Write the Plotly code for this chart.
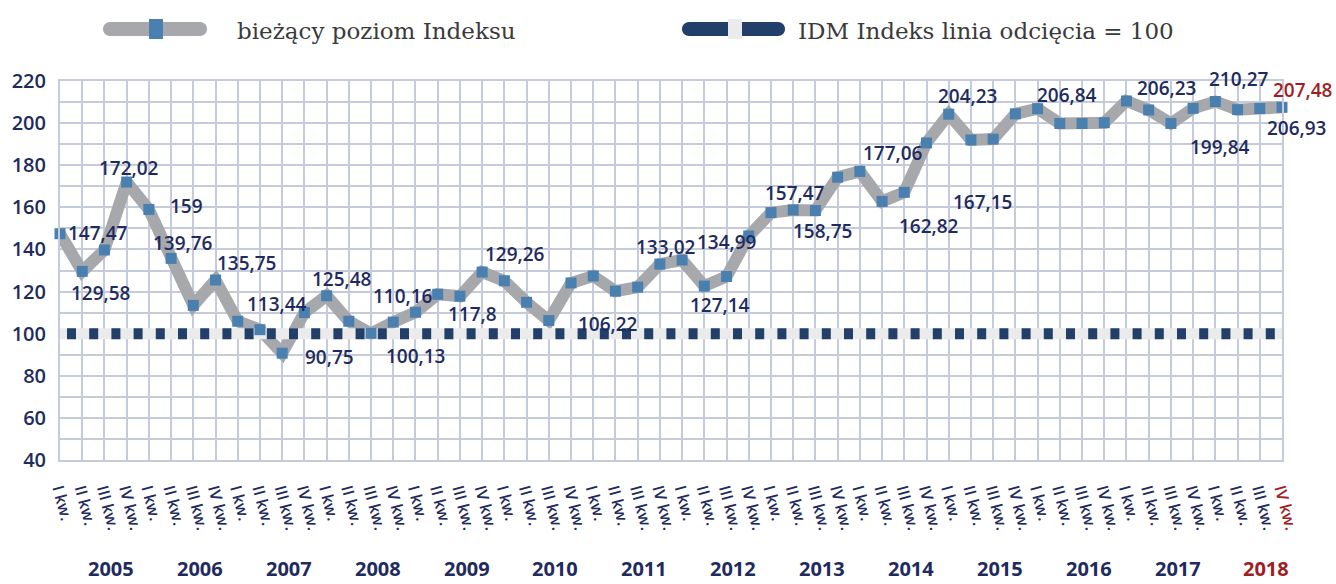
import plotly.graph_objects as go

# ---------------- data ----------------
years = [str(y) for y in range(2005, 2019)]
quarters = ["I kw.", "II kw.", "III kw.", "IV kw."]
tick_labels = [q for _ in years for q in quarters]

index_values = [
    147.47, 129.58, 139.76, 172.02,   # 2005
    159.00, 135.75, 113.44, 125.48,   # 2006
    105.90, 101.90, 90.75, 110.00,    # 2007
    118.00, 105.90, 100.13, 105.50,   # 2008
    110.16, 118.70, 117.80, 129.26,   # 2009
    125.10, 114.90, 106.22, 124.10,   # 2010
    127.40, 120.20, 122.10, 133.02,   # 2011
    134.99, 122.60, 127.14, 146.40,   # 2012
    157.47, 158.75, 158.50, 174.30,   # 2013
    177.06, 162.82, 167.15, 190.60,   # 2014
    204.23, 192.00, 192.40, 204.40,   # 2015
    206.84, 199.80, 199.80, 200.20,   # 2016
    210.50, 206.23, 199.84, 207.00,   # 2017
    210.27, 206.40, 206.93, 207.48,   # 2018
]
cutoff_value = 100
y_ticks = [40, 60, 80, 100, 120, 140, 160, 180, 200, 220]

# labels printed on the chart (value shown, point it sits next to)
label_values = [147.47, 129.58, 172.02, 159, 139.76, 135.75, 113.44, 125.48,
                90.75, 100.13, 110.16, 117.8, 129.26, 106.22, 133.02, 134.99,
                127.14, 157.47, 158.75, 177.06, 162.82, 167.15, 204.23, 206.84,
                206.23, 210.27, 199.84, 206.93, 207.48]

# ---------------- placement / style (layout only) ----------------
label_anchor = [0, 1, 3, 4, 5, 7, 11, 12, 10, 14, 16, 18, 19, 22, 27, 31,
                29, 33, 34, 36, 38, 41, 40, 44, 48, 52, 51, 55, 55]
label_dx = [37.5, 18.5, 2.5, 38, 12, 31, -27, 15.5, 47.5, 45, -12, 13, 33, 59, 6, -22,
            16, 2, 8, 33, 25, 12, 19.5, 29, 40.5, 24, 27, 14.5, 21]
label_dy = [-1, 22, -14, -3, -15, -17, -9, -17, 4, 23, -16, 18, -18, 3, -17, 6,
            19, -17, 21, -18, 34, 62, -18, -14, -13, -22, 39, 21, -17]

NAVY = "#1f2b5e"
RED = "#a01d24"
GRID = "#c6cbdc"
LINE_GRAY = "#a7a8ab"
MARKER_BLUE = "#4a80b0"
CUT_NAVY = "#213f68"
CUT_LIGHT = "#ebebeb"
NUM_FONT = "Open Sans"
LEG_FONT = "DejaVu Serif, serif"

W, H = 1336, 584
ML, MR, MT, MB = 60, 54, 81, 124

x = list(range(len(index_values)))
tick_text = list(tick_labels)
tick_text[-1] = f'<span style="color:{RED}">{tick_text[-1]}</span>'

fig = go.Figure()
fig.add_trace(go.Scatter(x=x, y=index_values, mode="lines",
                         line=dict(color=LINE_GRAY, width=12),
                         hoverinfo="skip", showlegend=False))
fig.add_trace(go.Scatter(x=[x[0], x[-1]], y=[cutoff_value, cutoff_value], mode="lines",
                         line=dict(color=CUT_LIGHT, width=11),
                         hoverinfo="skip", showlegend=False))
fig.add_trace(go.Scatter(x=[x[0], x[-1]], y=[cutoff_value, cutoff_value], mode="lines",
                         line=dict(color=CUT_NAVY, width=11, dash="0px,7px,9px,6.2px"),
                         hoverinfo="skip", showlegend=False))
fig.add_trace(go.Scatter(x=x, y=index_values, mode="markers",
                         marker=dict(symbol="square", size=11, color=MARKER_BLUE),
                         cliponaxis=False, showlegend=False,
                         name="bieżący poziom Indeksu"))

annotations = []
for v, a, dx, dy in zip(label_values, label_anchor, label_dx, label_dy):
    txt = f"{v:g}".replace(".", ",")
    col = RED if a == len(index_values) - 1 and dy < 0 else NAVY
    annotations.append(dict(x=a, y=index_values[a], xref="x", yref="y", text=txt,
                            showarrow=False, xshift=dx, yshift=-dy,
                            xanchor="center", yanchor="middle",
                            font=dict(family=NUM_FONT, size=19, color=col, weight=600)))

plot_h = H - MT - MB
plot_w = W - ML - MR


def px2paper_x(px):
    return (px - ML) / plot_w


def py2paper_y(py):
    return (MT + plot_h - py) / plot_h


for k, yr in enumerate(years):
    annotations.append(dict(x=4 * k + 2.3, y=py2paper_y(584),
                            xref="x", yref="paper", text=yr, showarrow=False,
                            xanchor="center", yanchor="bottom",
                            font=dict(family=NUM_FONT, size=20, weight=700,
                                      color=RED if k == len(years) - 1 else NAVY)))

annotations.append(dict(x=px2paper_x(235), y=py2paper_y(31), xref="paper", yref="paper",
                        text="bieżący poziom Indeksu", showarrow=False,
                        xanchor="left", yanchor="middle",
                        font=dict(family=LEG_FONT, size=23, color="#3a3a3a")))
annotations.append(dict(x=px2paper_x(796), y=py2paper_y(31), xref="paper", yref="paper",
                        text="IDM Indeks linia odcięcia = 100", showarrow=False,
                        xanchor="left", yanchor="middle",
                        font=dict(family=LEG_FONT, size=23, color="#3a3a3a")))


def pill(x0, x1, yc, h):
    r = h / 2
    k = 0.552 * r
    return (f"M{x0 + r},{yc - r} L{x1 - r},{yc - r} "
            f"C{x1 - r + k},{yc - r} {x1},{yc - k} {x1},{yc} "
            f"C{x1},{yc + k} {x1 - r + k},{yc + r} {x1 - r},{yc + r} "
            f"L{x0 + r},{yc + r} "
            f"C{x0 + r - k},{yc + r} {x0},{yc + k} {x0},{yc} "
            f"C{x0},{yc - k} {x0 + r - k},{yc - r} {x0 + r},{yc - r} Z")


def pxshape(**kw):
    base = dict(xref="paper", yref="paper", xsizemode="pixel", ysizemode="pixel",
                xanchor=0, yanchor=1, line=dict(width=0), layer="above")
    base.update(kw)
    return base


yc = MT - 29  # legend centre, pixels above plot top
shapes = [
    pxshape(type="path", path=pill(103 - ML, 207 - ML, yc, 14), fillcolor=LINE_GRAY),
    pxshape(type="rect", x0=149 - ML, x1=163 - ML, y0=yc - 10, y1=yc + 10, fillcolor=MARKER_BLUE),
    pxshape(type="path", path=pill(682 - ML, 785 - ML, yc, 14), fillcolor=CUT_NAVY),
    pxshape(type="rect", x0=728 - ML, x1=742 - ML, y0=yc - 10, y1=yc + 10, fillcolor=CUT_LIGHT),
]

fig.update_layout(
    width=W, height=H,
    margin=dict(l=ML, r=MR, t=MT, b=MB, pad=0),
    paper_bgcolor="white", plot_bgcolor="white",
    showlegend=False,
    annotations=annotations,
    shapes=shapes,
    xaxis=dict(range=[x[0], x[-1]], tickmode="array", tickvals=x, ticktext=tick_text,
               tickangle=75, tickfont=dict(family=NUM_FONT, size=16, color=NAVY, weight=600),
               showgrid=True, gridcolor=GRID, gridwidth=2, zeroline=False,
               showline=True, linecolor=GRID, linewidth=2, mirror=True,
               ticks="outside", ticklen=12, tickcolor="rgba(0,0,0,0)", fixedrange=True),
    yaxis=dict(range=[y_ticks[0], y_ticks[-1]], tickmode="array", tickvals=y_ticks,
               tickfont=dict(family=NUM_FONT, size=20, color=NAVY, weight=600),
               showgrid=True, gridcolor=GRID, gridwidth=2, zeroline=False,
               minor=dict(dtick=10, showgrid=True, gridcolor=GRID, gridwidth=2),
               showline=True, linecolor=GRID, linewidth=2, mirror=True,
               ticks="outside", ticklen=8, tickcolor="rgba(0,0,0,0)", fixedrange=True),
)

fig.write_html("out.html", config={"displayModeBar": False},
               post_script="document.body.style.margin='0';")
